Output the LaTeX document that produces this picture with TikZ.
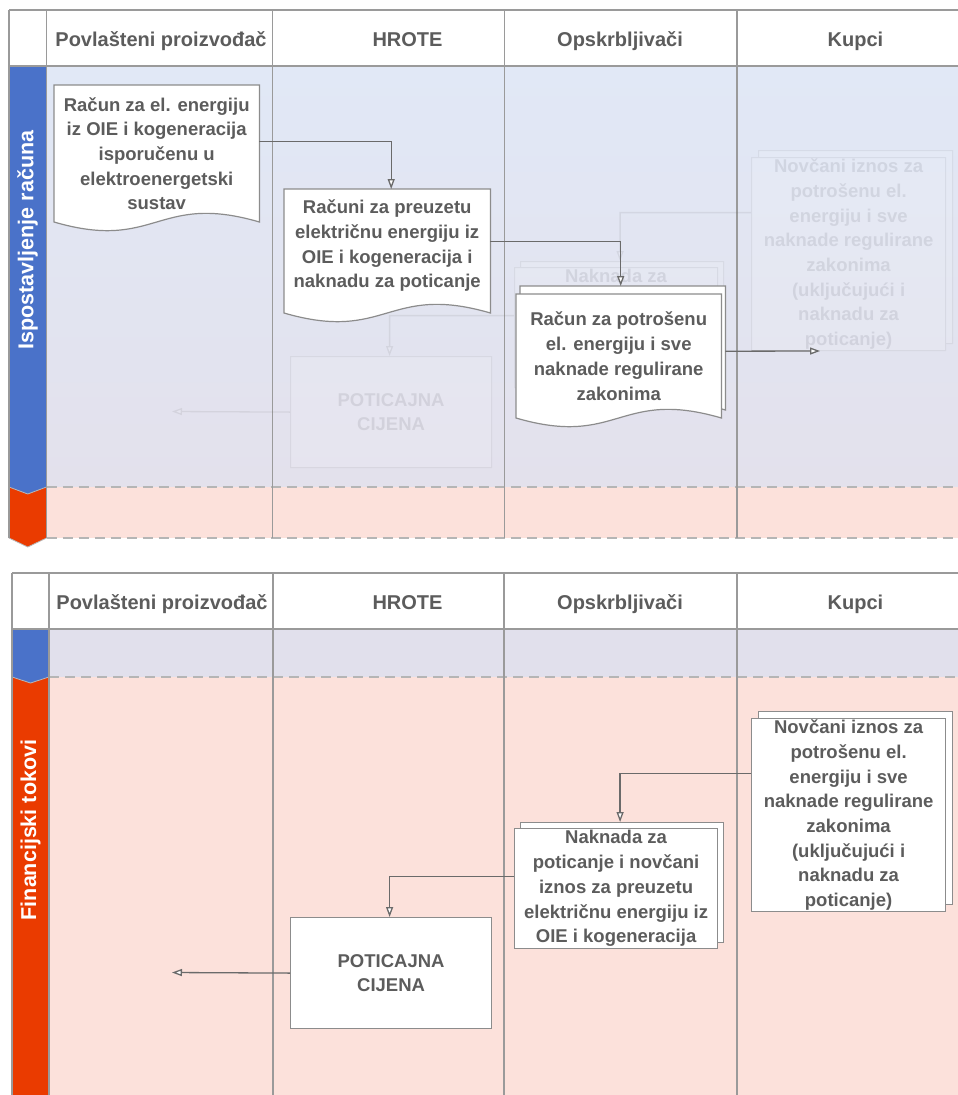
\documentclass[tikz,border=0pt]{standalone}
\usepackage{fontspec}
\setmainfont{Liberation Sans}
\usetikzlibrary{arrows.meta,calc}
\definecolor{gridc}{HTML}{9A9A9A}
\definecolor{txtc}{HTML}{5C5C5C}
\definecolor{edgec}{HTML}{8C8C8C}
\definecolor{connc}{HTML}{6A6A6A}
\definecolor{bandblue}{HTML}{4A72C9}
\definecolor{bandorange}{HTML}{EA3B00}
\definecolor{lanetop}{HTML}{E1E8F6}
\definecolor{lanebot}{HTML}{E3E1EC}
\definecolor{lanecol}{HTML}{E1E0EC}
\definecolor{lanepink}{HTML}{FCE1DB}
\definecolor{dashc}{HTML}{B5B5B5}
\tikzset{
 gridline/.style={draw=gridc, line width=1.3pt},
 sepline/.style={draw=dashc, line width=1.2pt, dash pattern=on 10pt off 6pt},
 bandshape/.style={draw=gridc!70, line width=0.8pt},
 hdr/.style={font=\fontsize{20}{24}\selectfont\bfseries, text=txtc, inner sep=0pt, anchor=base},
 sidelbl/.style={font=\fontsize{21.5}{26}\selectfont\bfseries, text=white, inner sep=0pt, rotate=90},
 txt/.style={font=\fontsize{18.5}{24.7}\selectfont\bfseries, text=txtc, align=center, inner sep=0pt},
 sheet/.style={rectangle, draw=edgec, fill=white, line width=1.2pt, inner sep=0pt},
 shapebox/.style={rectangle, inner sep=0pt},
 docline/.style={draw=edgec, fill=white, line width=1.2pt},
 conn/.style={draw=connc, line width=1.3pt, -{Triangle[length=10pt,width=7pt,fill=white]}},
}
% document outline: node name, baseline offset from north, wave amplitude
\newcommand\docoutline[3]{%
  \path[docline] (#1.north west) -- (#1.north east) -- ($(#1.north east)+(0,#2)$)
    .. controls ($(#1.north)+(0,#2-#3)$) and ($(#1.north)+(0,#2+#3)$) .. ($(#1.north west)+(0,#2)$) -- cycle;
}
% content of the "Financijski tokovi" lane
\newcommand\finflow[1]{%
  \node[sheet, anchor=north west, minimum width=194pt, minimum height=193pt] (#1novb) at (758,711) {};
  \node[sheet, txt, anchor=north west, minimum width=194pt, minimum height=193pt] (#1nov) at (751,718)
    {Novčani iznos za\\potrošenu el.\\energiju i sve\\naknade regulirane\\zakonima\\(uključujući i\\naknadu za\\poticanje)};
  \node[sheet, anchor=north west, minimum width=203pt, minimum height=120pt] (#1nakb) at (520,822) {};
  \node[sheet, txt, anchor=north west, minimum width=203pt, minimum height=120pt] (#1nak) at (514,828)
    {Naknada za\\poticanje i novčani\\iznos za preuzetu\\električnu energiju iz\\OIE i kogeneracija};
  \node[sheet, txt, anchor=north west, minimum width=201pt, minimum height=111pt] (#1pot) at (290,917)
    {POTICAJNA\\CIJENA};
  \coordinate (#1potend) at (172,972.5);
  \draw[conn] ([yshift=41.5pt]#1nov.west) -| ([xshift=-2pt]#1nakb.north);
  \draw[conn] ([yshift=12pt]#1nak.west) -| ([xshift=-1.5pt]#1pot.north);
  \draw[conn] (#1pot.west) -- (#1potend);
}
\begin{document}
\begin{tikzpicture}[x=1pt,y=-1pt]
\useasboundingbox (0,0) rectangle (958,1095);
\fill[white] (0,0) rectangle (958,1095);

% ================= TOP DIAGRAM =================
\fill[top color=lanetop, bottom color=lanebot] (46.5,66) rectangle (958,487);
\fill[lanepink] (46.5,487) rectangle (958,538);
\draw[sepline] (46.5,487) -- (958,487);
\draw[sepline] (46.5,538) -- (958,538);
% side bands
\path[bandshape, fill=bandorange] (9,487) -- (46.5,487) -- (46.5,538) -- (27.75,547) -- (9,538) -- cycle;
\path[bandshape, fill=bandblue] (9,66) -- (46.5,66) -- (46.5,487) -- (27.75,494) -- (9,487) -- cycle;
\node[sidelbl] (lblA) at (27.5,240) {Ispostavljenje računa};
% grid
\draw[gridline] (9,10) -- (958,10);
\draw[gridline] (9,66) -- (958,66);
\draw[gridline] (9,10) -- (9,538);
\draw[gridline] (46.5,10) -- (46.5,538);
\draw[gridline] (272.5,10) -- (272.5,538);
\draw[gridline] (504.5,10) -- (504.5,538);
\draw[gridline] (737,10) -- (737,538);
% headers
\node[hdr] (hA1) at (161,46.5) {Povlašteni proizvođač};
\node[hdr] (hA2) at (407.5,46.5) {HROTE};
\node[hdr] (hA3) at (620,46.5) {Opskrbljivači};
\node[hdr] (hA4) at (855.5,46.5) {Kupci};

% ghost of the lower lane seen through
\begin{scope}
\clip (46.5,66) rectangle (958,487);
\begin{scope}[transparency group, opacity=0.12, shift={(0,-561)}]
\finflow{g}
\end{scope}
\end{scope}

% documents
\node[shapebox, anchor=north west, minimum width=205pt, minimum height=137pt] (d1) at (54,85) {};
\docoutline{d1}{137}{30}
\node[txt] (d1t) at (d1.center) {Račun za el. energiju\\iz OIE i kogeneracija\\isporučenu u\\elektroenergetski\\sustav};

\node[shapebox, anchor=north west, minimum width=206pt, minimum height=124pt] (d2) at (284,189) {};
\docoutline{d2}{124}{30}
\node[txt] (d2t) at ([yshift=5.5pt]d2.center) {Računi za preuzetu\\električnu energiju iz\\OIE i kogeneracija i\\naknadu za poticanje};

\node[shapebox, anchor=north west, minimum width=205pt, minimum height=124pt] (mdb) at (520,286) {};
\docoutline{mdb}{124}{30}
\node[shapebox, anchor=north west, minimum width=205pt, minimum height=124pt] (md) at (516,294) {};
\docoutline{md}{124}{30}
\node[txt] (mdt) at (md.center) {Račun za potrošenu\\el. energiju i sve\\naknade regulirane\\zakonima};

\coordinate (mdend) at (820,351);
\draw[conn] ([yshift=12.5pt]d1.east) -| ([xshift=4pt]d2.north);
\draw[conn] ([yshift=10pt]d2.east) -| ([xshift=-2pt]mdb.north);
\draw[conn] ([yshift=-3pt]mdb.east) -- (mdend);

% ================= BOTTOM DIAGRAM =================
\fill[lanecol] (49,629) rectangle (958,677);
\fill[lanepink] (49,677) rectangle (958,1095);
\draw[sepline] (49,677) -- (958,677);
\path[bandshape, fill=bandorange] (12,677) -- (49,677) -- (49,1095) -- (12,1095) -- cycle;
\path[bandshape, fill=bandblue] (12,629) -- (49,629) -- (49,677) -- (30.5,683) -- (12,677) -- cycle;
\node[sidelbl] (lblB) at (30.5,830) {Financijski tokovi};
\draw[gridline] (12,573) -- (958,573);
\draw[gridline] (12,629) -- (958,629);
\draw[gridline] (12,573) -- (12,1095);
\draw[gridline] (49,573) -- (49,1095);
\draw[gridline] (273,573) -- (273,1095);
\draw[gridline] (504,573) -- (504,1095);
\draw[gridline] (737,573) -- (737,1095);
\node[hdr] (hB1) at (162,609) {Povlašteni proizvođač};
\node[hdr] (hB2) at (407.5,609) {HROTE};
\node[hdr] (hB3) at (620,609) {Opskrbljivači};
\node[hdr] (hB4) at (855.5,609) {Kupci};

\finflow{}
\end{tikzpicture}
\end{document}
